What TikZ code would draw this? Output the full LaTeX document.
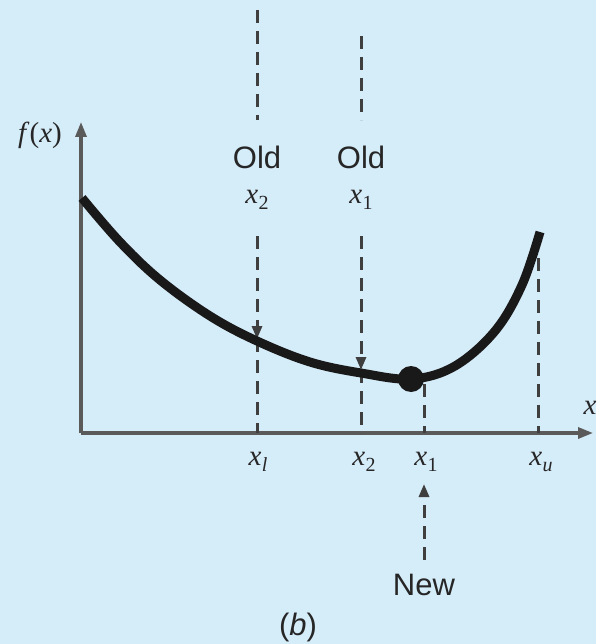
\documentclass[tikz,border=0pt]{standalone}
\usepackage{fontspec}
\setmainfont{Liberation Serif}
\newfontfamily\sansf{Liberation Sans}
\usetikzlibrary{arrows.meta}
\definecolor{bg}{HTML}{D5ECF9}
\definecolor{dashc}{HTML}{3F3F3F}
\definecolor{axisc}{HTML}{5A5A5A}
\newcommand{\xv}[1]{\textit{x}\kern0.5pt\raisebox{-0.45ex}{\fontsize{20}{20}\selectfont #1}}
\begin{document}
\begin{tikzpicture}[x=1pt,y=-1pt,
  axisline/.style={draw=axisc,line width=3.2pt,-{Triangle[length=15pt,width=11pt]}},
  guide/.style={draw=dashc,line width=3pt,dash pattern=on 13pt off 8pt},
  guidearrow/.style={guide,-{Triangle[length=13pt,width=10pt]}},
  curveline/.style={draw=black!90,line width=9pt},
  mlab/.style={font=\fontsize{29}{30}\selectfont,inner sep=0pt,text=black!85},
  slab/.style={font=\sansf\fontsize{31}{32}\selectfont,inner sep=0pt,text=black!85}]
\useasboundingbox[fill=bg] (0,0) rectangle (596,644);
% axes
\coordinate (O) at (81,433);
\coordinate (ytop) at (81,122);
\coordinate (xend) at (593,433);
\draw[axisline] (O) -- (ytop);
\draw[axisline] (O) -- (xend);
\node[mlab] (fx) at (40,135) {\textit{f}(\textit{x})};
\node[mlab] (xlab) at (590,408) {\textit{x}};
% guide coordinates
\coordinate (a1) at (257,10);
\coordinate (a2) at (257,120);
\coordinate (a3) at (257,236);
\coordinate (a4) at (257,339);
\coordinate (a5) at (257,433);
\coordinate (b1) at (361,36);
\coordinate (b2) at (361,120);
\coordinate (b3) at (361,236);
\coordinate (b4) at (361,370);
\coordinate (b5) at (361,433);
\coordinate (c1) at (424,384);
\coordinate (c2) at (424,433);
\coordinate (d1) at (538,258);
\coordinate (d2) at (538,433);
\coordinate (n1) at (424,560);
\coordinate (n2) at (424,484);
% dashed guides
\draw[guide] (a1) -- (a2);
\draw[guidearrow] (a3) -- (a4);
\draw[guide] (a4) -- (a5);
\draw[guide] (b1) -- (b2);
\draw[guidearrow] (b3) -- (b4);
\draw[guide] (b4) -- (b5);
\draw[guide] (c1) -- (c2);
\draw[guide] (d1) -- (d2);
\draw[guidearrow] (n1) -- (n2);
% curve
\draw[curveline] plot[smooth,tension=0.6] coordinates {(82,198) (120,242) (160,280) (210,316) (257,341) (310,362) (361,373) (412,379) (455,366) (495,331) (522,285) (540,232)};
\fill[black!90] (411,379) circle (13pt) coordinate (dot);
% labels
\node[slab] (old2) at (257,157) {Old};
\node[mlab] (ox2) at (257,200) {\xv{2}};
\node[slab] (old1) at (361,157) {Old};
\node[mlab] (ox1) at (361,200) {\xv{1}};
\node[mlab] (lxl) at (258,462) {\xv{\textit{l}}};
\node[mlab] (lx2) at (364,462) {\xv{2}};
\node[mlab] (lx1) at (426,462) {\xv{1}};
\node[mlab] (lxu) at (541,462) {\xv{\textit{u}}};
\node[slab] (new) at (424,585) {New};
\node[slab] (bl) at (298,627) {(\textit{b})};
\end{tikzpicture}
\end{document}
